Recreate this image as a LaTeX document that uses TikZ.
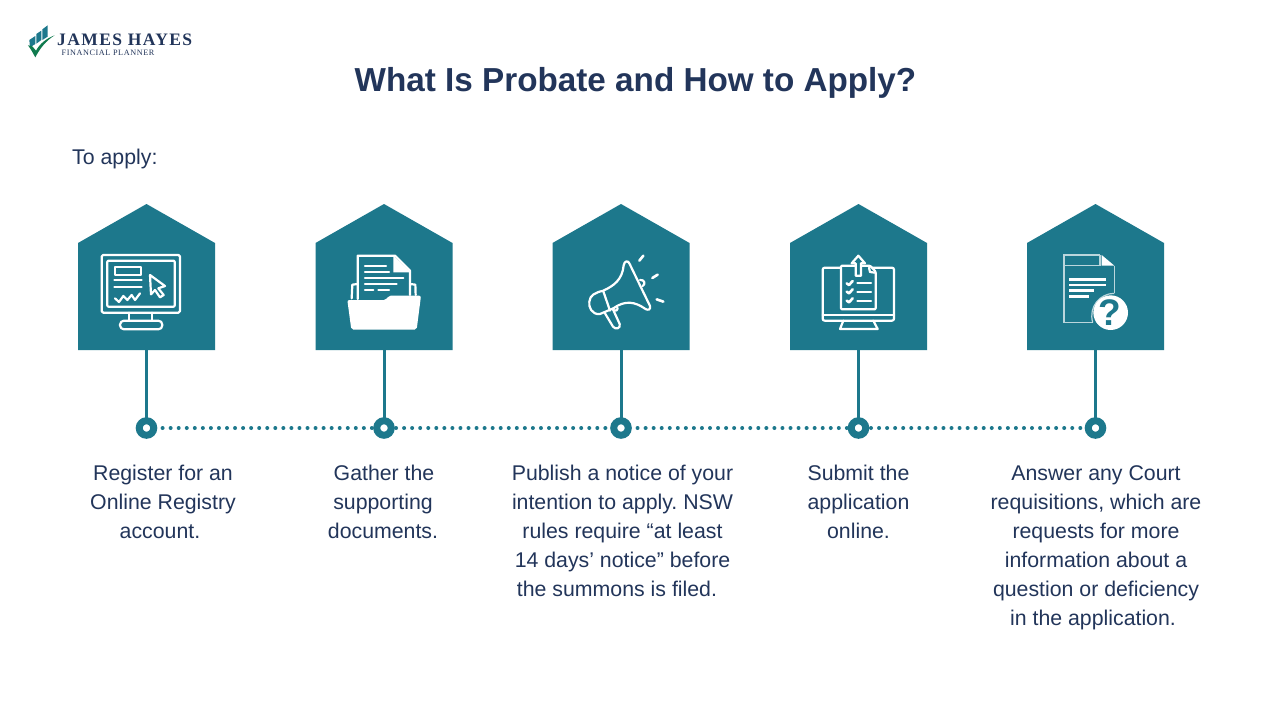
\documentclass[tikz,border=0pt]{standalone}
\usepackage{fontspec}
\setmainfont{Liberation Sans}
\newfontfamily\logofont{Liberation Serif}
\definecolor{teal1}{HTML}{1D788C}
\definecolor{navy1}{HTML}{22355A}
\definecolor{green1}{HTML}{0F7A4E}
\tikzset{
  house/.style={fill=teal1,draw=none},
  stem/.style={draw=teal1,line width=3pt},
  ring/.style={circle,draw=teal1,fill=white,line width=7pt,minimum size=14.5pt,inner sep=0pt},
  dots/.style={draw=teal1,line width=4pt,line cap=round,dash pattern=on 0pt off 8.05pt},
  body/.style={text=navy1,font=\frenchspacing\fontsize{21.3}{29}\selectfont,align=center,anchor=north},
  ico/.style={draw=white,line width=2.2pt,line cap=round,line join=round},
  icofill/.style={fill=white,draw=none},
}
\begin{document}
\begin{tikzpicture}[x=1pt,y=-1pt]
\useasboundingbox (0,0) rectangle (1280,720);
\fill[white] (0,0) rectangle (1280,720);

% logo
\begin{scope}[shift={(10,10)},scale=1/3]
  \fill[teal1] (58,90) -- (76,78) -- (76,102) -- (60,112) -- cycle;
  \fill[teal1] (79,72) -- (94,62) -- (94,90) -- (79,101) -- cycle;
  \fill[teal1] (97,58) -- (113,46) -- (113,80) -- (97,90) -- cycle;
  \fill[green1] (54,106) -- (66,108) -- (78,122) .. controls (90,100) and (110,85) .. (134,76) .. controls (108,92) and (90,115) .. (76,142) .. controls (68,128) and (62,116) .. cycle;
\end{scope}
\node[anchor=base west,inner sep=0pt,text=navy1] (logoa) at (57,45) {\logofont\fontsize{17.5}{18}\selectfont\bfseries\addfontfeature{LetterSpace=8}JAMES HAYES};
\node[anchor=base west,inner sep=0pt,text=navy1] (logob) at (61.5,55) {\logofont\fontsize{8.2}{9}\selectfont\addfontfeature{LetterSpace=7}FINANCIAL PLANNER};

% title
\node[text=navy1,font=\fontsize{33.25}{38}\selectfont\bfseries,inner sep=0pt] (title) at (635.5,83) {What Is Probate and How to Apply?};
\node[text=navy1,font=\fontsize{21.3}{24}\selectfont,anchor=west,inner sep=0pt] (toapply) at (72,159) {To apply:};

% anchors
\foreach \i/\c in {1/146.5,2/384,3/621,4/858.5,5/1095.5}{
  \coordinate (h\i) at (\c,350);
  \coordinate (d\i) at (\c,428);
}
\draw[dots] (d1) -- (d5);
\foreach \i/\c in {1/146.5,2/384,3/621,4/858.5,5/1095.5}{
  \draw[stem] (h\i) -- (d\i);
  \fill[house] (\c-68.5,350) -- (\c-68.5,243) -- (\c,204) -- (\c+68.5,243) -- (\c+68.5,350) -- cycle;
  \node[ring] (r\i) at (d\i) {};
}

% icon 1: monitor with cursor
\begin{scope}[shift={(70,200)},scale=1/3]
  \draw[ico,rounded corners=1.5pt] (95,165) rectangle (330,338);
  \draw[ico,rounded corners=1pt] (112,182) rectangle (314,320);
  \draw[ico] (178,338) -- (178,362) (247,338) -- (247,362);
  \draw[ico,rounded corners=4pt] (150,362) rectangle (277,388);
  \draw[ico] (135,202) rectangle (214,224);
  \draw[ico] (133,240) -- (215,240) (133,262) -- (215,262);
  \draw[ico] (135,295) -- (147,306) -- (160,288) -- (172,300) -- (185,285) -- (195,300) -- (210,280);
  \draw[ico] (240,225) -- (285,258) -- (265,265) -- (281,285) -- (270,292) -- (255,270) -- (243,283) -- cycle;
\end{scope}

% icon 2: folder with document
\begin{scope}[shift={(310,200)},scale=1/3]
  \draw[ico] (143,297) -- (143,167) -- (255,167) -- (300,212) -- (300,285);
  \fill[white] (250,167) -- (250,217) -- (303,217) -- cycle;
  \draw[ico] (165,198) -- (228,198) (165,215) -- (237,215) (165,234) -- (280,234) (165,252) -- (260,252) (165,271) -- (190,271) (205,271) -- (237,271);
  \draw[ico] (143,252) -- (127,254) -- (125,295) (300,252) -- (316,254) -- (317,285);
  \fill[icofill,rounded corners=2pt] (112,300) -- (228,300) -- (236,287) -- (333,287) -- (320,389) -- (124,389) -- cycle;
\end{scope}

% icon 3: megaphone
\begin{scope}[shift={(545,200)},scale=1/3]
  \draw[ico] (175,272) .. controls (205,258) and (232,240) .. (236,196) .. controls (238,182) and (250,180) .. (254,192) -- (315,318) .. controls (318,330) and (308,332) .. (300,326) .. controls (270,305) and (240,300) .. (205,325) -- (165,342) .. controls (140,345) and (130,320) .. (133,305) .. controls (135,285) and (150,278) .. (175,272) -- cycle;
  \draw[ico] (175,274) -- (195,332);
  \draw[ico] (180,340) -- (204,380) .. controls (212,390) and (228,385) .. (224,372) -- (203,326);
  \draw[ico] (285,240) .. controls (298,238) and (303,252) .. (293,258);
  \draw[ico] (205,330) .. controls (212,335) and (220,330) .. (217,322);
  \draw[ico,line width=2.6pt] (283,182) -- (295,167) (322,234) -- (338,224) (335,298) -- (355,305);
\end{scope}

% icon 4: monitor with checklist
\begin{scope}[shift={(785,200)},scale=1/3]
  \draw[ico,rounded corners=2pt] (113,203) rectangle (327,362);
  \draw[ico] (113,345) -- (327,345);
  \draw[ico] (175,362) -- (165,387) -- (278,387) -- (265,362);
  \draw[ico,fill=teal1,rounded corners=1pt] (168,197) -- (168,328) -- (272,328) -- (272,215) -- (255,197) -- cycle;
  \draw[ico] (252,203) -- (255,216) -- (270,218);
  \draw[ico,fill=teal1] (220,167) -- (200,190) -- (212,190) -- (212,227) -- (228,227) -- (228,190) -- (240,190) -- cycle;
  \foreach \y in {250,275,302}{
    \draw[ico,line width=2.6pt] (185,\y) -- (192,\y+5) -- (203,\y-7);
    \draw[ico] (217,\y) -- (258,\y);
  }
\end{scope}

% icon 5: document with question mark
\begin{scope}[shift={(1020,200)},scale=1/3]
  \draw[draw=white,opacity=.7,line width=1.2pt] (218,367) -- (132,367) -- (132,165) -- (240,165) (132,197) -- (240,197) (240,165) -- (240,197) (283,197) -- (283,280);
  \fill[white] (245,165) -- (283,197) -- (245,197) -- cycle;
  \draw[ico,line cap=butt,line width=2.6pt] (147,238) -- (257,238) (147,255) -- (257,255) (147,272) -- (222,272) (147,289) -- (208,289);
  \draw[draw=white,opacity=.7,line width=1.2pt] (218,367) .. controls (205,320) and (240,280) .. (283,280);
  \fill[white] (272,338) circle (52);
  \node[text=teal1,font=\fontsize{37}{37}\selectfont\bfseries,inner sep=0pt] (qm) at (270,338) {?};
\end{scope}

% captions
\node[body] (t1) at (163,462) {Register for an\\Online Registry\\\kern-6pt account.};
\node[body] (t2) at (383,462) {\kern2pt Gather the\\supporting\\documents.};
\node[body] (t3) at (622.5,462) {Publish a notice of your\\intention to apply. NSW\\rules require “at least\\14 days’ notice” before\\\kern-11pt the summons is filed.};
\node[body] (t4) at (858.5,462) {Submit the\\application\\online.};
\node[body] (t5) at (1096,462) {Answer any Court\\requisitions, which are\\requests for more\\information about a\\question or deficiency\\\kern-6pt in the application.};
\end{tikzpicture}
\end{document}
